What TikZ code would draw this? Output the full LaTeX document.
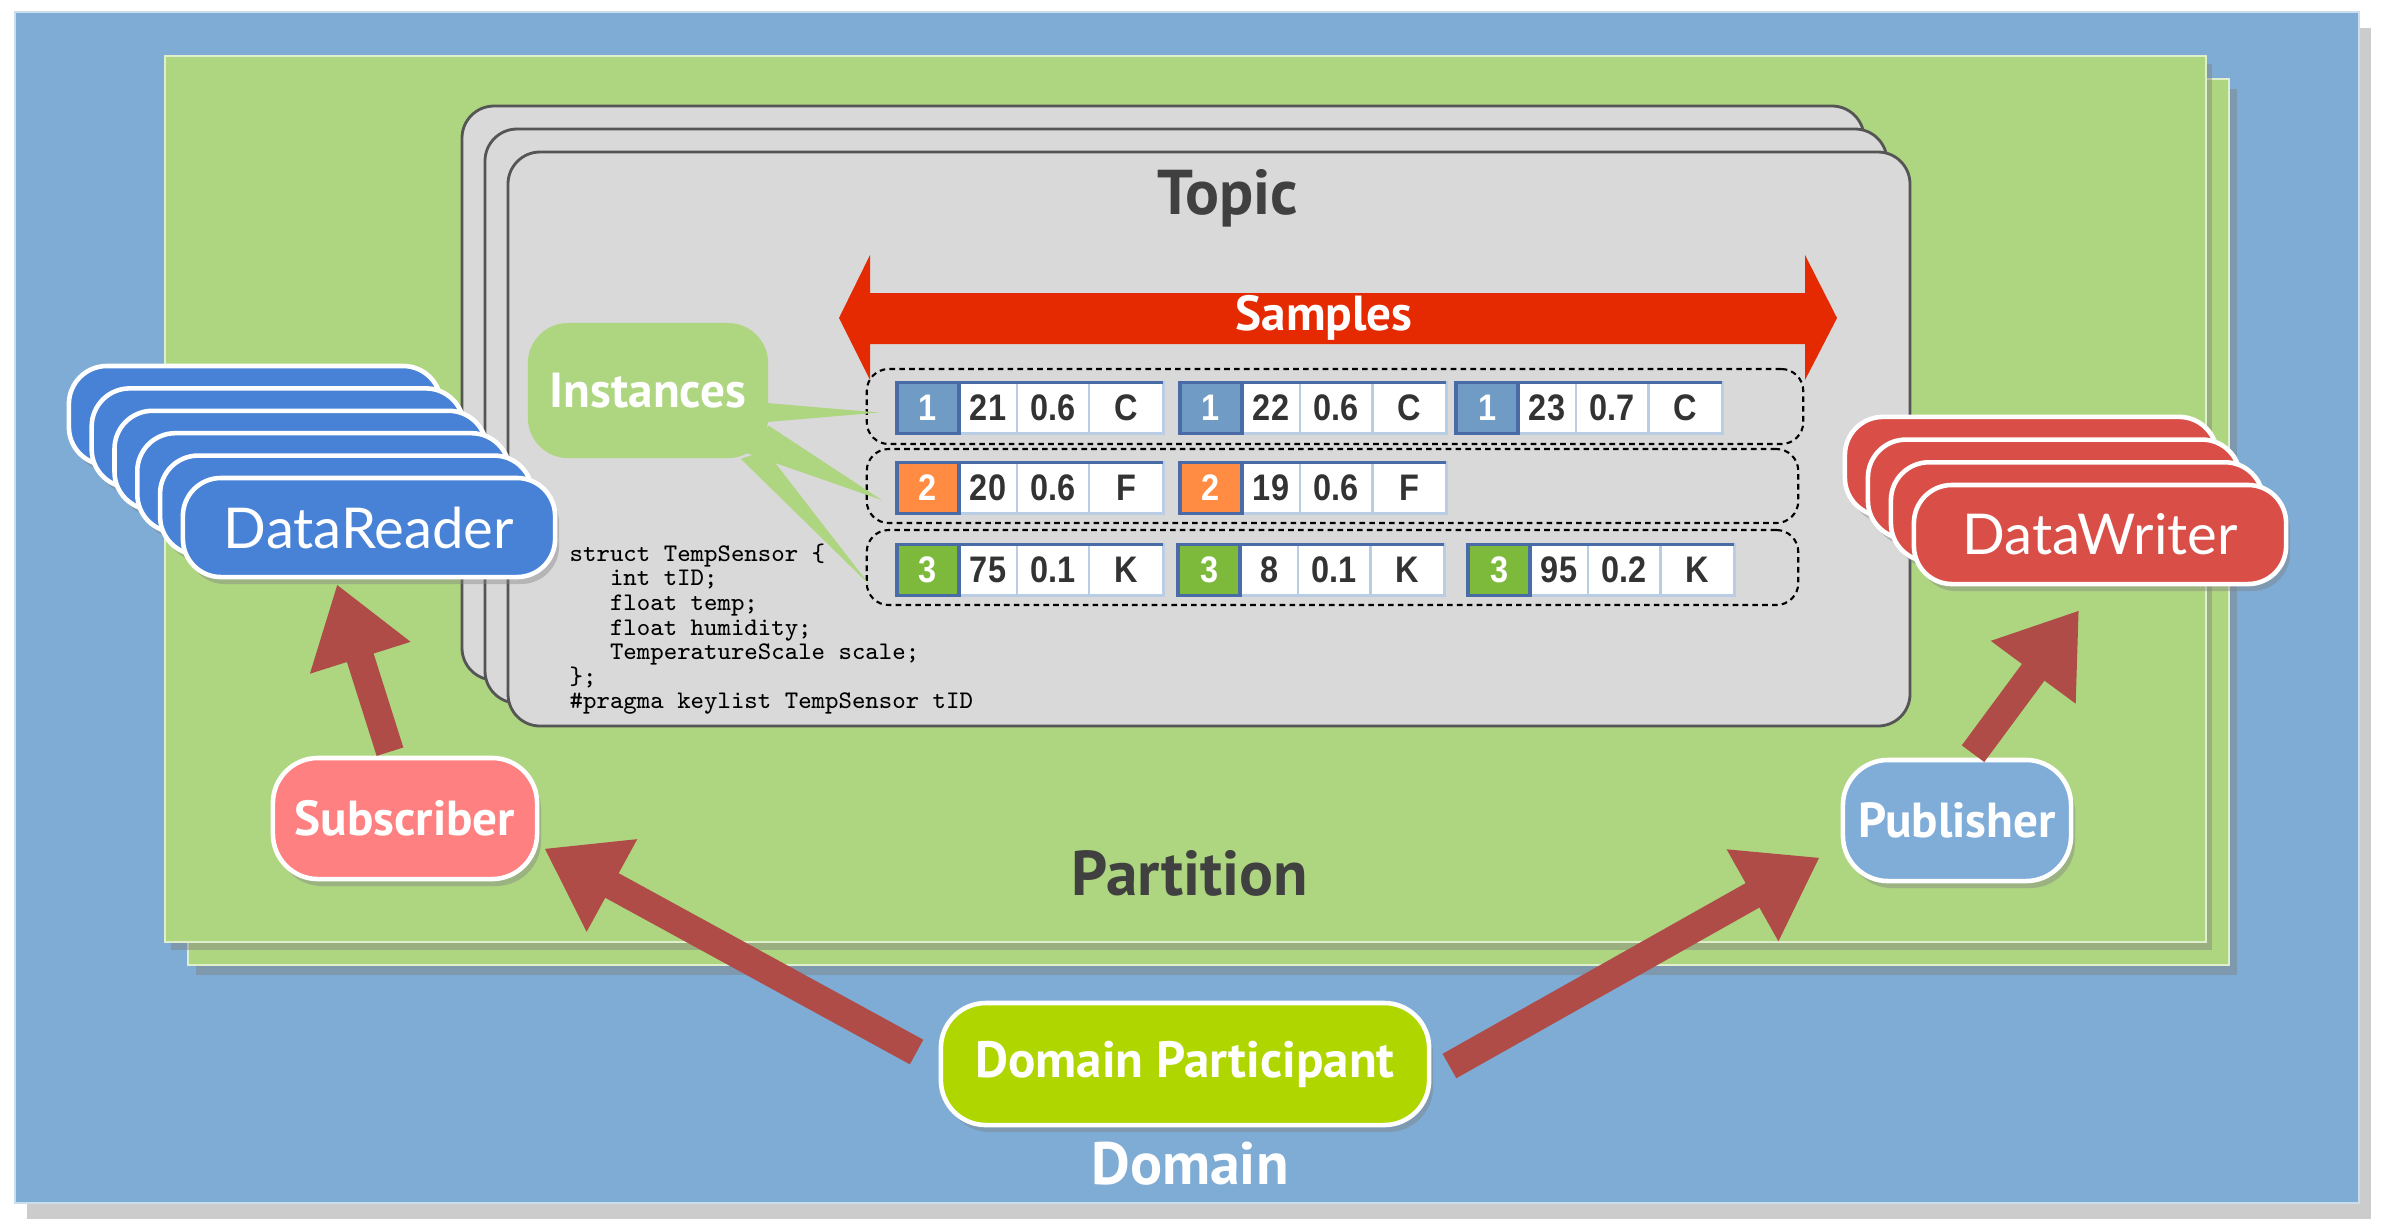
\documentclass[tikz,border=0pt]{standalone}
\usepackage{fontspec}
\usepackage{tikz}
\usetikzlibrary{calc,shadows,arrows.meta}

\newfontfamily\labelfont{PT Sans}
\newfontfamily\tilefont{Lato}
\newfontfamily\cellfont[FakeStretch=0.88]{Liberation Sans}

\definecolor{domainblue}{RGB}{126,172,213}
\definecolor{partgreen}{RGB}{174,214,128}
\definecolor{topicgray}{RGB}{217,217,217}
\definecolor{topicline}{RGB}{85,85,85}
\definecolor{labelgray}{RGB}{64,64,64}
\definecolor{samplered}{RGB}{229,41,0}
\definecolor{instgreen}{RGB}{174,213,128}
\definecolor{readerblue}{RGB}{72,130,214}
\definecolor{writerred}{RGB}{217,79,72}
\definecolor{subpink}{RGB}{255,128,128}
\definecolor{publight}{RGB}{128,173,216}
\definecolor{dplime}{RGB}{176,214,0}
\definecolor{linkred}{RGB}{176,76,72}
\definecolor{keyblue}{RGB}{74,108,166}
\definecolor{celledge}{RGB}{185,205,229}
\definecolor{celltext}{RGB}{51,51,51}
\definecolor{keyone}{RGB}{111,155,197}
\definecolor{keytwo}{RGB}{255,140,66}
\definecolor{keythree}{RGB}{125,186,60}

% one sample: name, x, y, key colour, key, three values
\newcommand{\tempsample}[8]{%
  \coordinate (#1) at (#2,#3);
  \node[valcell, minimum width=0.58cm] (#1a) at ($(#1)+(62,0)$) {#6};
  \node[valcell, minimum width=0.72cm] (#1b) at (#1a.east) {#7};
  \node[valcell, minimum width=0.74cm] (#1c) at (#1b.east) {#8};
  \node[keycell, fill=#4] (#1k) at (#1) {#5};
  \draw[keyblue, line width=1.1pt] (#1k.north west) -- (#1c.north east);
}

\begin{document}
\begin{tikzpicture}[x=0.01cm, y=-0.01cm,
    softshadow/.style={drop shadow={opacity=0.4, shadow xshift=0.04cm, shadow yshift=-0.07cm}},
    tile/.style={rounded corners=0.38cm, draw=white, line width=1.3pt, inner sep=0,
        minimum width=3.72cm, minimum height=0.99cm, text=white,
        font=\tilefont\fontsize{16}{18}\selectfont, softshadow},
    role/.style={rounded corners=0.45cm, draw=white, line width=1.3pt, inner sep=0,
        minimum height=1.21cm, text=white,
        font=\labelfont\bfseries\fontsize{14}{16}\selectfont, softshadow},
    topicbox/.style={fill=topicgray, draw=topicline, line width=0.8pt, rounded corners=0.32cm},
    rowbox/.style={draw=black, line width=0.6pt, dash pattern=on 1.6pt off 1.2pt,
        rounded corners=0.22cm, inner sep=0},
    keycell/.style={anchor=west, minimum width=0.62cm, minimum height=0.51cm, inner sep=0,
        outer sep=0, draw=keyblue, line width=1.1pt, text=white,
        font=\cellfont\bfseries\fontsize{10.5}{11}\selectfont},
    valcell/.style={anchor=west, minimum height=0.51cm, inner sep=0, outer sep=0,
        fill=white, draw=celledge, line width=0.8pt, text=celltext,
        font=\cellfont\bfseries\fontsize{10.5}{11}\selectfont},
    link/.style={linkred, line width=0.28cm, -{Triangle[length=0.77cm, width=1.0cm]}}]

        % --- 1. Parameters ---
        \def\stackdx{22.8}
        \def\stackdy{22.4}
        \def\tipL{839}
        \def\tipR{1837}
        \def\headL{870}
        \def\headR{1805}

        \fill[white] (0,0) rectangle (2394,1229);
        \useasboundingbox (0,0) rectangle (2394,1229);

        % --- 2. Domain and Partition ---
        \path[fill=domainblue, draw=white!60!domainblue, line width=0.6pt,
            drop shadow={opacity=0.4, shadow xshift=0.12cm, shadow yshift=-0.16cm}]
            (15,12) rectangle (2359,1203);
        \path[fill=partgreen, draw=white!60!partgreen, line width=0.8pt,
            drop shadow={opacity=0.45, shadow xshift=0.08cm, shadow yshift=-0.1cm}]
            (188,79) rectangle (2229,965);
        \path[fill=partgreen, draw=white!60!partgreen, line width=0.8pt,
            drop shadow={opacity=0.45, shadow xshift=0.06cm, shadow yshift=-0.08cm}]
            (165,56) rectangle (2206,942);

        % --- 3. Topic stack ---
        \foreach \i in {2,1}
            \draw[topicbox] ({508-23*\i},{152-23*\i}) rectangle ++(1402,574);
        \draw[topicbox] (508,152) rectangle (1910,726);
        \node[font=\labelfont\bfseries\fontsize{18}{20}\selectfont, text=labelgray] (topic) at (1228,198) {Topic};

        % Samples arrow
        \fill[samplered] (\tipL,318) -- (\headL,255) -- (\headL,293) -- (\headR,293) -- (\headR,255)
            -- (\tipR,318) -- (\headR,380) -- (\headR,344) -- (\headL,344) -- (\headL,380) -- cycle;
        \node[font=\labelfont\bfseries\fontsize{14}{16}\selectfont, text=white] (samples) at (1324,318) {Samples};

        % Instance rows
        \node[rowbox, minimum width=9.36cm, minimum height=0.75cm] (row1) at (1335,406.5) {};
        \node[rowbox, minimum width=9.31cm, minimum height=0.74cm] (row2) at (1332.5,486) {};
        \node[rowbox, minimum width=9.31cm, minimum height=0.75cm] (row3) at (1332.5,567.5) {};

        \foreach \nm/\sx/\sy/\col/\k/\va/\vb/\vc in {
            s11/897/408/keyone/1/21/0.6/C, s12/1180/408/keyone/1/22/0.6/C,
            s13/1456/408/keyone/1/23/0.7/C,
            s21/897/488/keytwo/2/20/0.6/F, s22/1180/488/keytwo/2/19/0.6/F,
            s31/897/570/keythree/3/75/0.1/K, s32/1178/570/keythree/3/8/0.1/K,
            s33/1468/570/keythree/3/95/0.2/K}
            {\tempsample{\nm}{\sx}{\sy}{\col}{\k}{\va}{\vb}{\vc}}

        % Instances callout
        \node[fill=instgreen, rounded corners=0.4cm, minimum width=2.4cm, minimum height=1.35cm,
            text=white, font=\labelfont\bfseries\fontsize{14}{16}\selectfont] (inst) at (648,390.5) {Instances};
        \fill[instgreen] ($(inst.east)+(-8,12)$) -- ($(row1.west)+(13,6)$) -- ($(inst.east)+(-8,32)$) -- cycle;
        \fill[instgreen] ($(inst.south east)+(0,-33)$) -- ($(row2.west)+(16,14)$) -- ($(inst.south east)+(-23,-6)$) -- cycle;
        \fill[instgreen] ($(inst.south east)+(-28,0)$) -- ($(row3.west)+(4,17.5)$) -- ($(inst.south east)+(-3,-8)$) -- cycle;

        % Type definition
        \node[anchor=north west, inner sep=0, align=left,
            font=\ttfamily\fontsize{7.2}{7}\selectfont] (idl) at (569,543)
            {struct TempSensor \{\\
             \ \ \ int tID;\\
             \ \ \ float temp;\\
             \ \ \ float humidity;\\
             \ \ \ TemperatureScale scale;\\
             \};\\
             \#pragma keylist TempSensor tID};

        % --- 4. Labels ---
        \node[font=\labelfont\bfseries\fontsize{18}{20}\selectfont, text=labelgray] (partition) at (1190,873) {Partition};
        \node[font=\labelfont\bfseries\fontsize{17}{19}\selectfont, text=white] (domain) at (1190,1164) {Domain};

        % --- 5. Readers, writers, roles ---
        \foreach \i in {5,...,1}
            \node[tile, fill=readerblue] (reader\i) at ({369-\stackdx*\i},{527.5-\stackdy*\i}) {};
        \node[tile, fill=readerblue] (reader) at (369,527.5) {DataReader};

        \foreach \i in {3,2,1}
            \node[tile, fill=writerred] (writer\i) at ({2100-23*\i},{534.5-22.7*\i}) {};
        \node[tile, fill=writerred] (writer) at (2100,534.5) {DataWriter};

        \node[role, fill=subpink, minimum width=2.64cm] (sub) at (405,818.5) {Subscriber};
        \node[role, fill=publight, minimum width=2.28cm] (pub) at (1957,820.5) {Publisher};
        \node[role, fill=dplime, minimum width=4.88cm, minimum height=1.22cm,
            font=\labelfont\bfseries\fontsize{14.5}{16}\selectfont] (dp) at (1185,1064) {Domain Participant};

        % --- 6. Links ---
        \draw[link] ($(sub.north)+(-15,-4)$) -- ($(reader.south)+(-32,5)$);
        \draw[link] ($(pub.north)+(16,-4)$) -- ($(writer.south)+(-21,24)$);
        \draw[link] ($(dp.west)+(-22,-12)$) -- ($(sub.east)+(5,30)$);
        \draw[link] ($(dp.east)+(18,2)$) -- ($(pub.west)+(-21,37)$);
    \end{tikzpicture}
\end{document}
